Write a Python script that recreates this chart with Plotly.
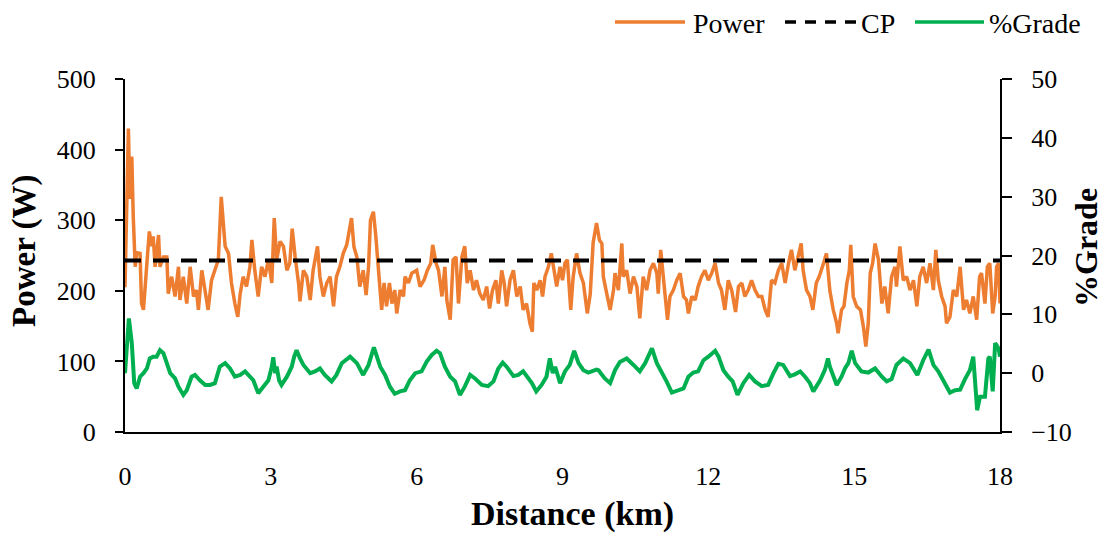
import plotly.graph_objects as go

# ---------------- data ----------------
power_km = [0.00, 0.04, 0.07, 0.10, 0.14, 0.17, 0.21, 0.24, 0.31, 0.34, 0.38, 0.45, 0.50, 0.55, 0.58, 0.62, 0.69, 0.72, 0.79, 0.86,
            0.89, 0.96, 1.03, 1.10, 1.13, 1.20, 1.27, 1.34, 1.41, 1.47, 1.51, 1.58, 1.65, 1.71, 1.78, 1.85, 1.92, 1.98, 2.02, 2.06,
            2.13, 2.19, 2.26, 2.32, 2.37, 2.43, 2.50, 2.57, 2.61, 2.67, 2.74, 2.81, 2.88, 2.95, 3.02, 3.07, 3.12, 3.19, 3.26, 3.33,
            3.39, 3.44, 3.50, 3.57, 3.60, 3.67, 3.74, 3.81, 3.87, 3.96, 4.01, 4.08, 4.15, 4.22, 4.29, 4.35, 4.42, 4.49, 4.56, 4.66,
            4.71, 4.77, 4.83, 4.90, 4.96, 5.01, 5.05, 5.11, 5.16, 5.21, 5.28, 5.33, 5.38, 5.44, 5.49, 5.55, 5.59, 5.66, 5.73, 5.76,
            5.83, 5.90, 6.00, 6.07, 6.15, 6.22, 6.29, 6.33, 6.40, 6.45, 6.52, 6.58, 6.62, 6.69, 6.75, 6.81, 6.86, 6.93, 6.99, 7.04,
            7.10, 7.17, 7.23, 7.30, 7.37, 7.44, 7.50, 7.56, 7.63, 7.68, 7.75, 7.80, 7.85, 7.92, 7.99, 8.06, 8.13, 8.19, 8.26, 8.33,
            8.38, 8.41, 8.47, 8.54, 8.59, 8.64, 8.71, 8.77, 8.83, 8.88, 8.95, 9.00, 9.05, 9.10, 9.17, 9.22, 9.29, 9.36, 9.43, 9.51,
            9.57, 9.63, 9.70, 9.76, 9.81, 9.84, 9.91, 9.98, 10.05, 10.08, 10.15, 10.22, 10.25, 10.32, 10.39, 10.46, 10.53, 10.59,
            10.66, 10.73, 10.80, 10.87, 10.94, 10.97, 11.02, 11.07, 11.16, 11.21, 11.28, 11.35, 11.42, 11.49, 11.55, 11.59, 11.66,
            11.73, 11.79, 11.86, 11.93, 12.00, 12.07, 12.14, 12.21, 12.27, 12.34, 12.41, 12.48, 12.56, 12.62, 12.69, 12.75, 12.82,
            12.89, 12.96, 13.03, 13.10, 13.17, 13.23, 13.30, 13.37, 13.44, 13.51, 13.58, 13.65, 13.71, 13.78, 13.85, 13.91, 13.95,
            14.02, 14.09, 14.15, 14.22, 14.28, 14.37, 14.43, 14.50, 14.57, 14.64, 14.67, 14.74, 14.79, 14.85, 14.90, 14.93, 14.98,
            15.05, 15.13, 15.19, 15.24, 15.29, 15.33, 15.38, 15.43, 15.50, 15.57, 15.63, 15.70, 15.77, 15.84, 15.87, 15.94, 16.01,
            16.08, 16.15, 16.22, 16.29, 16.35, 16.42, 16.49, 16.56, 16.63, 16.68, 16.73, 16.80, 16.87, 16.90, 16.97, 17.04, 17.11,
            17.18, 17.25, 17.31, 17.38, 17.45, 17.52, 17.58, 17.62, 17.69, 17.74, 17.79, 17.85, 17.90, 17.93, 17.97, 18.00]
power_w = [205, 310, 430, 330, 390, 305, 234, 254, 253, 182, 173, 239, 284, 263, 277, 234, 279, 234, 248, 248,
           196, 220, 192, 234, 187, 220, 182, 234, 192, 201, 173, 229, 201, 173, 215, 229, 244, 333, 296, 263,
           253, 211, 182, 163, 196, 220, 206, 234, 272, 229, 192, 234, 220, 244, 211, 303, 244, 270, 263, 229,
           239, 288, 248, 211, 185, 229, 220, 187, 229, 263, 220, 192, 211, 220, 178, 220, 234, 253, 265, 303,
           262, 248, 206, 229, 194, 234, 300, 312, 277, 239, 173, 211, 178, 211, 182, 201, 168, 201, 192, 220,
           211, 225, 229, 206, 215, 229, 239, 265, 239, 229, 192, 234, 187, 159, 244, 248, 182, 248, 263, 211,
           229, 201, 215, 196, 187, 206, 175, 201, 215, 182, 229, 211, 178, 215, 229, 192, 206, 173, 182, 154,
           142, 211, 201, 215, 192, 220, 234, 253, 229, 206, 234, 215, 239, 244, 173, 220, 253, 225, 211, 168,
           195, 268, 296, 272, 267, 220, 196, 173, 201, 225, 201, 267, 220, 229, 196, 220, 206, 161,
           220, 201, 229, 239, 225, 196, 258, 220, 159, 192, 201, 215, 225, 192, 187, 168, 192,
           187, 206, 220, 229, 215, 225, 239, 211, 201, 173, 215, 201, 170, 206, 211, 192, 201,
           215, 201, 192, 192, 173, 163, 215, 211, 229, 239, 211, 239, 258, 229, 248, 267, 229,
           201, 192, 173, 211, 220, 239, 253, 200, 173, 154, 140, 173, 178, 211, 229, 265, 192,
           178, 173, 149, 121, 154, 225, 239, 267, 244, 182, 206, 168, 220, 234, 206, 263, 215,
           220, 201, 215, 178, 220, 234, 211, 239, 201, 258, 215, 192, 178, 154, 163, 201, 192,
           234, 173, 187, 168, 192, 159, 220, 225, 182, 234, 239, 168, 192, 234, 239, 182]

grade_km = [0.00, 0.08, 0.14, 0.19, 0.24, 0.31, 0.38, 0.45, 0.51, 0.58, 0.65, 0.72, 0.79, 0.86, 0.93, 1.03, 1.10, 1.20, 1.27, 1.37,
            1.44, 1.54, 1.65, 1.75, 1.85, 1.95, 2.06, 2.16, 2.26, 2.37, 2.47, 2.57, 2.64, 2.74, 2.85, 2.95, 3.02, 3.05, 3.09, 3.12,
            3.17, 3.22, 3.33, 3.43, 3.48, 3.53, 3.60, 3.67, 3.81, 3.91, 4.01, 4.11, 4.25, 4.35, 4.46, 4.59, 4.63, 4.77, 4.90, 5.01,
            5.12, 5.25, 5.35, 5.45, 5.55, 5.66, 5.76, 5.86, 5.97, 6.10, 6.21, 6.31, 6.41, 6.48, 6.58, 6.69, 6.79, 6.89, 6.99, 7.10,
            7.20, 7.34, 7.47, 7.58, 7.68, 7.77, 7.85, 7.99, 8.09, 8.19, 8.30, 8.37, 8.46, 8.57, 8.67, 8.74, 8.80, 8.85, 8.95, 9.05,
            9.15, 9.24, 9.33, 9.43, 9.53, 9.70, 9.74, 9.87, 9.98, 10.08, 10.18, 10.32, 10.46, 10.59, 10.70, 10.84, 10.94, 11.04,
            11.14, 11.25, 11.38, 11.49, 11.59, 11.69, 11.79, 11.90, 12.00, 12.07, 12.14, 12.21, 12.31, 12.41, 12.50, 12.60, 12.72,
            12.84, 12.96, 13.10, 13.23, 13.34, 13.44, 13.54, 13.68, 13.78, 13.89, 13.99, 14.09, 14.16, 14.30, 14.40, 14.46, 14.50,
            14.57, 14.64, 14.74, 14.81, 14.88, 14.95, 15.02, 15.15, 15.29, 15.43, 15.57, 15.67, 15.77, 15.87, 16.01, 16.15, 16.30,
            16.42, 16.53, 16.63, 16.73, 16.84, 16.97, 17.08, 17.18, 17.28, 17.38, 17.45, 17.49, 17.53, 17.59, 17.69, 17.76, 17.79,
            17.85, 17.90, 17.97, 18.00]
grade_pct = [0.0, 9.3, 5.1, -1.7, -2.6, -0.6, 0.0, 0.8, 2.5, 2.8, 2.8, 3.9, 3.4, 1.7, 0.0, -0.9, -2.3, -3.7, -2.9, -0.6,
             -0.3, -1.2, -2.0, -2.0, -1.7, 1.1, 1.7, 0.8, -0.6, -0.3, 0.3, -0.6, -1.2, -3.4, -2.3, -1.2, 1.1, 2.7, 0.0, 1.1,
             -1.2, -2.0, -0.6, 1.1, 2.8, 3.9, 2.5, 1.4, 0.0, 0.3, 0.8, -0.3, -1.4, -0.3, 1.7, 2.5, 2.8, 1.7, -0.3, 1.4,
             4.4, 1.1, -0.3, -2.3, -3.5, -3.1, -2.9, -1.2, 0.0, 0.3, 2.0, 3.1, 3.8, 3.4, 1.1, -0.6, -1.4, -3.7, -2.3, -0.3,
             -0.9, -2.0, -2.2, -1.4, 0.8, 1.8, 1.1, -0.5, -0.3, 0.3, -0.9, -1.7, -3.1, -2.0, -0.6, 2.5, 0.0, 1.1, -1.7, 0.3,
             1.4, 3.8, 1.7, 0.5, 0.1, 0.6, 0.5, -0.9, -1.7, 0.5, 1.9, 2.5, 1.4, 0.3, 1.7, 4.2, 1.7, 0.3,
             -1.4, -3.3, -2.9, -2.6, -0.6, 0.1, 0.3, 2.2, 2.8, 3.4, 3.8, 2.8, 0.5, -0.6, -1.4, -3.7, -1.7,
             -0.3, -1.4, -2.2, -2.0, 0.0, 1.6, 1.4, -0.5, -0.2, 0.3, -0.6, -1.7, -3.1, -1.2, 0.6, 2.5, 1.1,
             -0.6, -2.0, -0.6, 0.8, 1.7, 3.8, 1.7, 0.3, 0.1, 0.8, -0.6, -1.4, -1.0, 1.4, 2.5, 1.7, -0.3,
             2.2, 4.0, 1.4, 0.3, -1.4, -3.3, -2.9, -2.8, -1.0, 0.5, 2.8, -1.7, -6.3, -4.0, -4.0, 2.5, 2.8,
             -3.1, 5.1, 4.2, 2.8]

cp_km = [0, 18]
cp_w = [243, 243]

x_ticks = [0, 3, 6, 9, 12, 15, 18]
power_ticks = [0, 100, 200, 300, 400, 500]
grade_ticks = [-10, 0, 10, 20, 30, 40, 50]

series_names = ["Power", "CP", "%Grade"]

# ---------------- figure ----------------
FONT = "Palatino Linotype, Book Antiqua, Liberation Serif, serif"
ORANGE = "#ED7D31"
GREEN = "#00B050"
CP_DASH = "16px,12px"

fig = go.Figure()
fig.add_trace(go.Scatter(x=power_km, y=power_w, name=series_names[0], mode="lines",
                         line=dict(color=ORANGE, width=3.5), showlegend=False))
fig.add_trace(go.Scatter(x=cp_km, y=cp_w, name=series_names[1], mode="lines",
                         line=dict(color="black", width=4, dash=CP_DASH), showlegend=False))
fig.add_trace(go.Scatter(x=grade_km, y=grade_pct, name=series_names[2], mode="lines", yaxis="y2",
                         line=dict(color=GREEN, width=4), showlegend=False))

axis_common = dict(showline=True, linecolor="black", linewidth=2, showgrid=False, zeroline=False,
                   tickfont=dict(family=FONT, size=26, color="black"))

plot_l, plot_r, plot_t, plot_b = 125, 1000, 79, 432
pw, ph = plot_r - plot_l, plot_b - plot_t
def px_x(p):
    return (p - plot_l) / pw
def px_y(p):
    return (plot_b - p) / ph

annotations = [
    dict(text="<b>Distance (km)</b>", x=px_x(572), y=px_y(514), xanchor="center", yanchor="middle",
         xref="paper", yref="paper", showarrow=False, font=dict(family=FONT, size=34, color="black")),
    dict(text="<b>Power (W)</b>", textangle=-90, x=px_x(24), y=px_y(251), xanchor="center", yanchor="middle",
         xref="paper", yref="paper", showarrow=False, font=dict(family=FONT, size=33, color="black")),
    dict(text="<b>%Grade</b>", textangle=-90, x=px_x(1086), y=px_y(248), xanchor="center", yanchor="middle",
         xref="paper", yref="paper", showarrow=False, font=dict(family=FONT, size=32, color="black")),
]

# custom legend (line sample + label), matching the reference layout
legend_items = [
    (series_names[0], dict(color=ORANGE, width=3.5), 615, 685, 691),
    (series_names[1], dict(color="black", width=3.5, dash="11px,9px"), 785, 857, 859),
    (series_names[2], dict(color=GREEN, width=3.5), 915, 984, 987),
]
shapes = []
leg_y = px_y(22)
for name, ln, x0, x1, tx in legend_items:
    shapes.append(dict(type="line", xref="paper", yref="paper", x0=px_x(x0), x1=px_x(x1),
                       y0=leg_y, y1=leg_y, line=ln))
    annotations.append(dict(text=name, x=px_x(tx), y=px_y(23), xanchor="left", yanchor="middle",
                            xref="paper", yref="paper", showarrow=False,
                            font=dict(family=FONT, size=28, color="black")))

fig.update_layout(
    width=1105, height=538,
    margin=dict(l=125, r=105, t=79, b=106, autoexpand=False),
    paper_bgcolor="white", plot_bgcolor="white",
    font=dict(family=FONT, color="black"),
    xaxis=dict(range=[0, 18], tickvals=x_ticks, ticks="", ticklabelstandoff=20, **axis_common),
    yaxis=dict(range=[0, 500], tickvals=power_ticks, ticks="outside", ticklen=8, tickwidth=2,
               tickcolor="black", ticklabelstandoff=14, **axis_common),
    yaxis2=dict(range=[-10, 50], tickvals=grade_ticks, ticks="outside", ticklen=10, tickwidth=2,
                tickcolor="black", overlaying="y", side="right", ticklabelstandoff=14, **axis_common),
    showlegend=False,
    annotations=annotations,
    shapes=shapes,
)

fig.write_html("out.html")
